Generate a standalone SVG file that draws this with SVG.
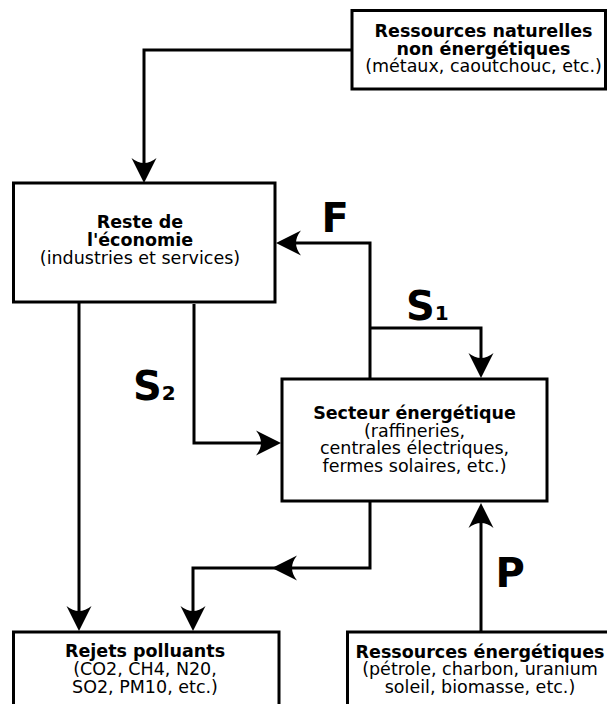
<svg xmlns="http://www.w3.org/2000/svg" xmlns:xlink="http://www.w3.org/1999/xlink" width="607" height="704" viewBox="0 0 607 704">
<style>
.box{fill:#fff;stroke:#000;stroke-width:3}
.t{font-family:"DejaVu Sans","Liberation Sans",sans-serif;font-size:17.5px;fill:#000;text-anchor:middle}
.b{font-weight:bold}
.lbl{font-family:"DejaVu Sans","Liberation Sans",sans-serif;font-weight:bold;font-size:40px;fill:#000}
.sub{font-size:20px}
.ln{fill:none;stroke:#000;stroke-width:3;stroke-linejoin:miter}
.ah{fill:#000;stroke:none}
</style>
<defs>
<path id="ah" d="M0,0 L-25,-12.5 Q-15,0 -25,12.5 Z"/>
</defs>
<rect width="607" height="704" fill="#fff"/>
<g id="connectors">
<path class="ln" d="M352,50 H144 V175"/>
<use href="#ah" class="ah" transform="translate(144,183) rotate(90)"/>
<path class="ln" d="M370,379 V243 H284"/>
<use href="#ah" class="ah" transform="translate(276,243) rotate(180)"/>
<path class="ln" d="M370,328 H481 V371"/>
<use href="#ah" class="ah" transform="translate(481,378) rotate(90)"/>
<path class="ln" d="M194,304 V443 H274"/>
<use href="#ah" class="ah" transform="translate(281,443)"/>
<path class="ln" d="M79,303 V622"/>
<use href="#ah" class="ah" transform="translate(79,631) rotate(90)"/>
<path class="ln" d="M370,501 V568 H193 V622"/>
<use href="#ah" class="ah" transform="translate(272,568) rotate(180)"/>
<use href="#ah" class="ah" transform="translate(193,631) rotate(90)"/>
<path class="ln" d="M481,632 V511"/>
<use href="#ah" class="ah" transform="translate(481,503) rotate(-90)"/>
<text class="lbl" x="321.5" y="232">F</text>
<text class="lbl" x="406" y="320">S<tspan class="sub">1</tspan></text>
<text class="lbl" x="133" y="399.5">S<tspan class="sub">2</tspan></text>
<text class="lbl" x="495.5" y="587">P</text>
</g>
<g id="ressources-naturelles">
<rect class="box" x="352" y="10.5" width="253.5" height="78.5"/>
<text class="t b" x="483.5" y="36.5">Ressources naturelles</text>
<text class="t b" x="483.5" y="54.5">non énergétiques</text>
<text class="t" x="483.5" y="72">(métaux, caoutchouc, etc.)</text>
</g>
<g id="reste-economie">
<rect class="box" x="13.5" y="183" width="261.5" height="119"/>
<text class="t b" x="140" y="228">Reste de</text>
<text class="t b" x="140" y="246">l'économie</text>
<text class="t" x="140" y="263.5">(industries et services)</text>
</g>
<g id="secteur-energetique">
<rect class="box" x="282" y="379" width="265" height="122"/>
<text class="t b" x="414.5" y="419">Secteur énergétique</text>
<text class="t" x="414.5" y="436.5">(raffineries,</text>
<text class="t" x="414.5" y="454">centrales électriques,</text>
<text class="t" x="414.5" y="471.5">fermes solaires, etc.)</text>
</g>
<g id="rejets-polluants">
<rect class="box" x="13.5" y="632" width="265.5" height="90"/>
<text class="t b" x="145" y="656.5">Rejets polluants</text>
<text class="t" x="145" y="674.5">(CO2, CH4, N20,</text>
<text class="t" x="145" y="692.5">SO2, PM10, etc.)</text>
</g>
<g id="ressources-energetiques">
<rect class="box" x="347.5" y="632" width="280" height="90"/>
<text class="t b" x="480" y="657.5">Ressources énergétiques</text>
<text class="t" x="480" y="675">(pétrole, charbon, uranium</text>
<text class="t" x="480" y="693">soleil, biomasse, etc.)</text>
</g>
</svg>
